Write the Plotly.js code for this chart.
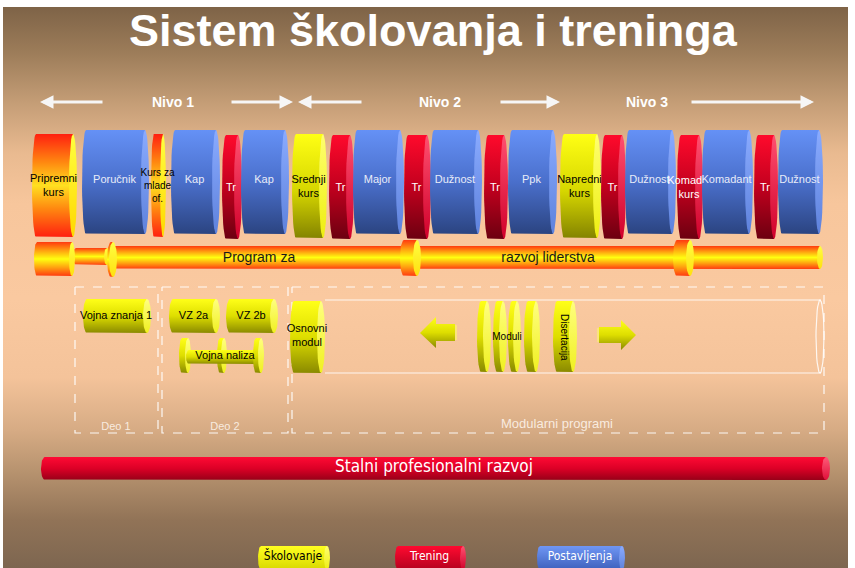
<!DOCTYPE html>
<html>
<head>
<meta charset="utf-8">
<script src="https://cdn.plot.ly/plotly-3.0.1.min.js"></script>
<style>html,body{margin:0;padding:0;background:#fff;}</style>
</head>
<body>
<div id="chart" style="width:855px;height:568px"></div>
<script>
// ---- diagram content ----
const titleText = 'Sistem školovanja i treninga';
const nivoLabels = ['Nivo 1', 'Nivo 2', 'Nivo 3'];
const nivoCenters = [173, 440, 647];

// career stages along the top row (span in px along the timeline)
const stageLabels = ['Pripremni<br>kurs', 'Poručnik', 'Kurs za<br>mlade<br>of.', 'Kap', 'Tr', 'Kap', 'Srednji<br>kurs', 'Tr', 'Major', 'Tr',
    'Dužnost', 'Tr', 'Ppk', 'Napredni<br>kurs', 'Tr', 'Dužnost', 'Komadni<br>kurs', 'Komadant', 'Tr', 'Dužnost'];
const stageKinds = ['uvod', 'post', 'uvod', 'post', 'tr', 'post', 'skol', 'tr', 'post', 'tr',
    'post', 'tr', 'post', 'skol', 'tr', 'post', 'tr', 'post', 'tr', 'post'];
const stageStart = [32, 82, 151, 171, 222, 241, 292, 329, 353, 404, 430, 484, 508, 560, 601, 625, 677, 702, 754, 778];
const stageEnd = [77, 149, 166, 220, 242, 289, 327, 354, 404, 431, 482, 508, 557, 601, 626, 676, 703, 753, 778, 823];

const programLabels = ['Program za', 'razvoj liderstva'];
const programLabelX = [259, 548];
const programRingStart = [34, 107, 400, 673];
const programRingEnd = [75, 117, 421, 694];

const partLabels = ['Deo 1', 'Deo 2', 'Modularni programi'];
const partStart = [75, 162, 292];
const partEnd = [158, 288, 824];

const courseLabels = ['Vojna znanja 1', 'VZ 2a', 'VZ 2b'];
const courseStart = [83, 169, 226];
const courseEnd = [151, 220, 278];

const moduleDiscStart = [477, 493, 508, 524];
const moduleDiscEnd = [491, 507, 521, 540];

const legendLabels = ['Školovanje', 'Trening', 'Postavljenja'];
const legendKinds = ['skol', 'tr', 'post'];
const legendStart = [258, 395, 537];
const legendEnd = [330, 466, 625];

// ---- styles ----
const FONT = 'Liberation Sans, Arial, sans-serif';
const NARROW = 'Liberation Sans Narrow, Arial Narrow, DejaVu Sans Condensed, sans-serif';

const kindStyle = {
    post: { body: [[0, '#6591f6'], [0.5, '#4a6fcb'], [1, '#2b4481']], face: [[0, '#8aabff'], [1, '#5e82dc']], text: '#e8ecf8', top: 130, bot: 234 },
    tr:   { body: [[0, '#ff0a2c'], [0.5, '#c2001e'], [1, '#6c0010']], face: [[0, '#ff5070'], [1, '#d0002a']], text: '#ffffff', top: 135, bot: 239 },
    skol: { body: [[0, '#ffff14'], [0.55, '#d6d600'], [1, '#848400']], face: [[0, '#ffff70'], [1, '#eeee10']], text: '#000000', top: 134, bot: 238 },
    uvod: { body: [[0, '#ff2010'], [0.28, '#ff8a10'], [0.5, '#ffe020'], [0.72, '#ff8a10'], [1, '#ff2010']], face: [[0, '#ffff40'], [1, '#ffd800']], text: '#000000', top: 134, bot: 237 }
};
const yellowBody = [[0, '#ffff18'], [0.5, '#dede00'], [1, '#8a8a00']];
const yellowFace = [[0, '#ffff80'], [1, '#f0f020']];
const tubeBody = [[0, '#ff3a10'], [0.25, '#ffa010'], [0.5, '#ffff10'], [0.75, '#ffa010'], [1, '#ff3a10']];
const tubeFace = [[0, '#ffff40'], [1, '#ffe010']];

const bgScale = [[0, '#7e6347'], [0.08, '#9c7c59'], [0.17, '#c49d76'], [0.26, '#e9ba90'], [0.35, '#f7c69c'],
    [0.52, '#fac9a0'], [0.66, '#f4c39a'], [0.755, '#d6ab84'], [0.83, '#b6926e'], [0.915, '#917357'], [1, '#7d6650']];

const traces = [];
const annotations = [];

function ellipsePts(cx, cy, rx, ry, t0, t1, n) {
    const x = [], y = [];
    for (let i = 0; i <= n; i++) {
        const t = t0 + (t1 - t0) * i / n;
        x.push(cx + rx * Math.cos(t));
        y.push(cy + ry * Math.sin(t));
    }
    return { x, y };
}

function fillShape(xs, ys, scale, y0, y1) {
    traces.push({
        type: 'scatter', mode: 'lines', x: xs, y: ys, fill: 'toself',
        line: { width: 0, color: 'rgba(0,0,0,0)' },
        fillgradient: { type: 'vertical', colorscale: scale, start: y0, stop: y1 },
        hoverinfo: 'skip', showlegend: false
    });
}

// horizontal cylinder: body with rounded back edge, lighter end face on the right
function cylinder(x0, x1, y0, y1, body, face, rx) {
    const cy = (y0 + y1) / 2, ry = (y1 - y0) / 2;
    const left = ellipsePts(x0 + rx, cy, rx, ry, Math.PI / 2, 3 * Math.PI / 2, 24);
    const bx = [x0 + rx, x1 - rx, x1 - rx, x0 + rx].concat(left.x);
    const by = [y0, y0, y1, y1].concat(left.y);
    fillShape(bx, by, body, y0, y1);
    const f = ellipsePts(x1 - rx, cy, rx, ry, 0, 2 * Math.PI, 40);
    fillShape(f.x, f.y, face, y0, y1);
}

function label(x, y, text, size, color, family) {
    traces.push({
        type: 'scatter', mode: 'text', x: [x], y: [y], text: [text],
        textposition: 'middle center',
        textfont: { family: family || FONT, size: size, color: color },
        hoverinfo: 'skip', showlegend: false, cliponaxis: false
    });
}

function polyline(xs, ys, color, width, dash) {
    traces.push({
        type: 'scatter', mode: 'lines', x: xs, y: ys,
        line: { color: color, width: width, dash: dash || 'solid' },
        hoverinfo: 'skip', showlegend: false
    });
}

// background
fillShape([3, 848, 848, 3], [7, 7, 568, 568], bgScale, 7, 568);

// title + level labels
annotations.push({ x: 433, y: 30, text: '<b>' + titleText + '</b>', showarrow: false,
    font: { family: FONT, size: 45, color: '#ffffff' } });
nivoLabels.forEach((t, i) => annotations.push({ x: nivoCenters[i], y: 102, text: '<b>' + t + '</b>', showarrow: false,
    font: { family: FONT, size: 14, color: '#ffffff' } }));
[[104, 40], [230, 293], [363, 298], [499, 560], [690, 814]].forEach(a => annotations.push({
    x: a[1], y: 102, ax: a[0], ay: 102, axref: 'x', ayref: 'y', text: '', showarrow: true,
    arrowhead: 2, arrowsize: 0.9, arrowwidth: 3, arrowcolor: '#f6f6f6', standoff: 0, startstandoff: 0
}));

// top row of stages; narrow course labels sit above their neighbours
const lateLabels = [];
stageLabels.forEach((t, i) => {
    const s = kindStyle[stageKinds[i]];
    const w = stageEnd[i] - stageStart[i];
    cylinder(stageStart[i], stageEnd[i], s.top, s.bot, s.body, s.face, w < 20 ? 3 : 4);
    const args = [(stageStart[i] + stageEnd[i]) / 2 - 1, (s.top + s.bot) / 2 + (stageKinds[i] === 'post' ? -2 : 1), t,
        w < 20 ? 10 : 11, s.text];
    if (w < 20) lateLabels.push(args); else label(...args);
});
lateLabels.forEach(a => label(...a));

// leadership program tube
cylinder(73, 110, 248, 265, tubeBody, tubeFace, 3);
cylinder(112, 823, 246, 269, tubeBody, tubeFace, 3);
programRingStart.forEach((x0, i) => {
    const tall = i === 0 ? [242, 276] : (i === 1 ? [242, 277] : [240, 276]);
    cylinder(x0, programRingEnd[i], tall[0], tall[1], tubeBody, tubeFace, i === 0 ? 3 : 4);
});
programLabels.forEach((t, i) => label(programLabelX[i], 258, t, 14, '#1a1a1a'));

// dashed part boxes
partLabels.forEach((t, i) => {
    polyline([partStart[i], partEnd[i], partEnd[i], partStart[i], partStart[i]], [287, 287, 433, 433, 287],
        'rgba(255,255,255,0.9)', 1.2, 'dash');
});
label(116, 427, partLabels[0], 11, 'rgba(255,248,240,0.85)');
label(225, 427, partLabels[1], 11, 'rgba(255,248,240,0.85)');
label(557, 425, partLabels[2], 13, 'rgba(255,248,240,0.85)');

// part 1 & 2 courses
courseLabels.forEach((t, i) => {
    cylinder(courseStart[i], courseEnd[i], 299, 333, yellowBody, yellowFace, 4);
    label((courseStart[i] + courseEnd[i]) / 2 - 1, 316, t, 11, '#000000');
});
cylinder(179, 191, 338, 373, yellowBody, yellowFace, 3);
cylinder(217, 227, 338, 373, yellowBody, yellowFace, 3);
cylinder(186, 262, 350, 364, yellowBody, yellowFace, 3);
cylinder(253, 264, 338, 373, yellowBody, yellowFace, 3);
label(225, 356, 'Vojna naliza', 11, '#000000');

// modular programmes tube
polyline([325, 821], [300, 300], 'rgba(255,255,255,0.85)', 1.2);
polyline([325, 821], [373, 373], 'rgba(255,255,255,0.85)', 1.2);
const endRing = ellipsePts(820, 336.5, 4, 36.5, 0, 2 * Math.PI, 40);
polyline(endRing.x, endRing.y, 'rgba(255,255,255,0.85)', 1.2);
cylinder(290, 325, 301, 373, yellowBody, yellowFace, 4);
label(307, 336, 'Osnovni<br>modul', 11, '#000000');

// arrows
fillShape([420, 436, 436, 455, 455, 436, 436], [333, 317, 324, 324, 341, 341, 348], yellowBody, 317, 348);
polyline([456, 456], [325, 340], '#ffff60', 1);
fillShape([599, 621, 621, 636, 621, 621, 599], [327, 327, 320, 335, 350, 343, 343], yellowBody, 320, 350);
polyline([598, 598], [328, 342], '#ffff60', 1);

moduleDiscStart.forEach((x0, i) => cylinder(x0, moduleDiscEnd[i], 301, 372, yellowBody, yellowFace, 4));
label(507, 337, 'Moduli', 10, '#000000');
cylinder(553, 577, 301, 372, yellowBody, yellowFace, 4);
annotations.push({ x: 565, y: 337, text: 'Disertacija', textangle: 90, showarrow: false,
    font: { family: FONT, size: 10, color: '#000000' } });

// continuous professional development bar
cylinder(41, 830, 457, 480, [[0, '#ff0a34'], [0.5, '#dc0026'], [1, '#980018']], [[0, '#ff5a78'], [1, '#e0103a']], 4);
label(434, 468, 'Stalni profesionalni razvoj', 17, '#ffffff', NARROW);

// legend
legendLabels.forEach((t, i) => {
    const k = legendKinds[i];
    const scale = k === 'skol' ? [[0, '#ffff20'], [1, '#d8d800']] : (k === 'tr' ? [[0, '#ff0a30'], [1, '#b4001e']] : [[0, '#6f96f4'], [1, '#3d60bc']]);
    cylinder(legendStart[i], legendEnd[i], 546, 570, scale, kindStyle[k].face, 3);
    label((legendStart[i] + legendEnd[i]) / 2 - 1, 557, t, 12, k === 'skol' ? '#000000' : '#ffffff', NARROW);
});

const layout = {
    width: 855, height: 568,
    margin: { l: 0, r: 0, t: 0, b: 0 },
    paper_bgcolor: '#ffffff', plot_bgcolor: '#ffffff',
    xaxis: { range: [0, 855], visible: false, fixedrange: true },
    yaxis: { range: [568, 0], visible: false, fixedrange: true },
    showlegend: false,
    annotations: annotations
};

Plotly.newPlot('chart', traces, layout, { displayModeBar: false, staticPlot: true });
</script>
</body>
</html>
